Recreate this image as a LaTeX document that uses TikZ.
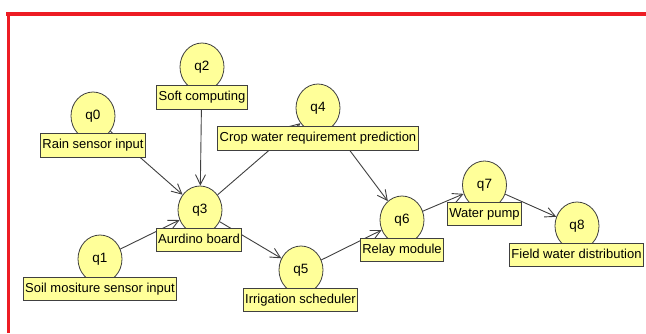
\documentclass[tikz,border=0pt]{standalone}
\usepackage{fontspec}
\setmainfont{Liberation Sans}
\usetikzlibrary{shapes.geometric,arrows.meta}
\pgfdeclarelayer{bg}
\pgfsetlayers{bg,main}
\definecolor{nodefill}{RGB}{255,255,153}
\definecolor{edgegray}{RGB}{64,64,64}
\definecolor{framered}{RGB}{237,28,36}
\begin{document}
\begin{tikzpicture}[x=1pt,y=-1pt,
 state/.style={ellipse,draw=black!75,line width=0.8pt,fill=nodefill,minimum width=44pt,minimum height=48pt,inner sep=0pt,font=\fontsize{13.5}{15}\selectfont},
 tag/.style={rectangle,draw=black!75,line width=0.8pt,fill=nodefill,inner xsep=2pt,inner ysep=0pt,minimum height=23.5pt,text height=9.5pt,text depth=2.8pt,font=\fontsize{13}{15}\selectfont},
 flow/.style={draw=edgegray,line width=0.9pt,-{Straight Barb[length=10pt,width=10pt]}}]
\useasboundingbox (0,0) rectangle (646,333);

\node[state] (q0) at (93,116) {q0};
\node[state] (q2) at (202,67) {q2};
\node[state] (q4) at (318,108) {q4};
\node[state] (q3) at (200,210) {q3};
\node[state] (q1) at (100,259) {q1};
\node[state] (q5) at (301,270) {q5};
\node[state] (q6) at (402,220) {q6};
\node[state] (q7) at (484.5,185) {q7};
\node[state] (q8) at (577,226) {q8};

\node[tag] (l0) at (93,145.5) {Rain sensor input};
\node[tag] (l2) at (202,97.5) {Soft computing};
\node[tag] (l4) at (318,138.5) {Crop water requirement prediction};
\node[tag] (l3) at (199,240) {Aurdino board};
\node[tag] (l1) at (100,288.7) {Soil mositure sensor input};
\node[tag] (l5) at (300.5,299.7) {Irrigation scheduler};
\node[tag] (l6) at (402,249.7) {Relay module};
\node[tag] (l7) at (484.5,214) {Water pump};
\node[tag] (l8) at (576.5,254.7) {Field water distribution};

\fill[framered] (6,12) rectangle (646,15.5);
\fill[framered] (7,12) rectangle (10.2,333);

\begin{pgfonlayer}{bg}
\fill[white] (0,0) rectangle (646,333);
\draw[flow] (q0) -- (q3);
\draw[flow] (q1) -- (q3);
\draw[flow] (q2) -- (q3);
\draw[flow] (q3) -- (q4);
\draw[flow] (q3) -- (q5);
\draw[flow] (q4) -- (q6);
\draw[flow] (q5) -- (q6);
\draw[flow] (q6) -- (q7);
\draw[flow] (q7) -- (q8);
\end{pgfonlayer}
\end{tikzpicture}
\end{document}
